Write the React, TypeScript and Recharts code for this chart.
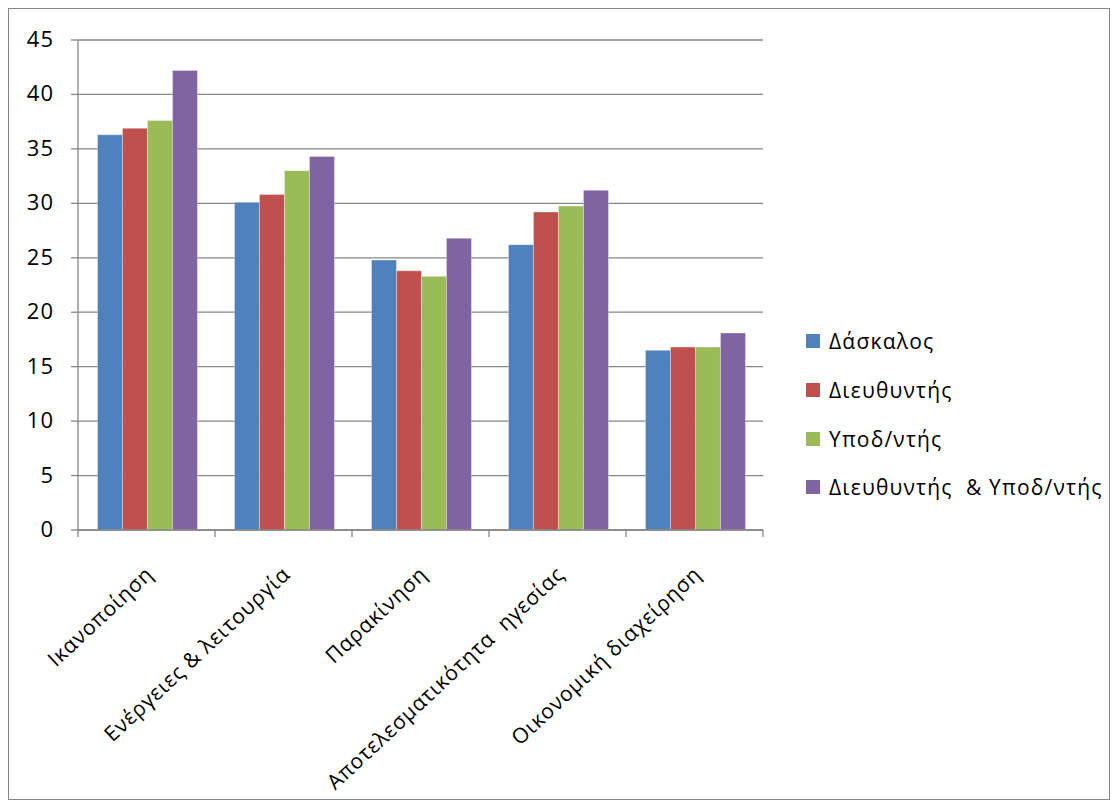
import React from "react";
import { BarChart, Bar, XAxis, YAxis, CartesianGrid } from "recharts";

const categories = [
  "Ικανοποίηση",
  "Ενέργειες & λειτουργία",
  "Παρακίνηση",
  "Αποτελεσματικότητα  ηγεσίας",
  "Οικονομική διαχείρηση",
];
const seriesNames = ["Δάσκαλος", "Διευθυντής", "Υποδ/ντής", "Διευθυντής  & Υποδ/ντής"];
const seriesColors = ["#4F81BD", "#C0504D", "#9BBB59", "#8064A2"];
const daskalos = [36.3, 30.1, 24.8, 26.2, 16.5];
const dieythyntis = [36.9, 30.8, 23.8, 29.2, 16.8];
const ypodntis = [37.6, 33.0, 23.3, 29.75, 16.8];
const dieythYpod = [42.2, 34.3, 26.8, 31.2, 18.1];
const yTicks = [0, 5, 10, 15, 20, 25, 30, 35, 40, 45];

const seriesValues = [daskalos, dieythyntis, ypodntis, dieythYpod];
const keys = ["s0", "s1", "s2", "s3"];
const data = categories.map((c, i) => {
  const row: any = { name: c };
  keys.forEach((k, j) => (row[k] = seriesValues[j][i]));
  return row;
});

const FONT = "'Open Sans', 'Noto Sans', sans-serif";

const XTick = (props: any) => {
  const { x, y, payload, index, visibleTicksCount } = props;
  const off = payload.offset || 0;
  const axisY = y - 8;
  const ax = x + 8;
  const ay = axisY + 46;
  return (
    <g>
      <line x1={x - off} x2={x - off} y1={axisY} y2={axisY + 7} stroke="#868686" strokeWidth={1.3} />
      {index === visibleTicksCount - 1 && (
        <line x1={x + off} x2={x + off} y1={axisY} y2={axisY + 7} stroke="#868686" strokeWidth={1.3} />
      )}
      <text
        x={ax}
        y={ay}
        textAnchor="end"
        transform={`rotate(-43, ${ax}, ${ay})`}
        fontSize={21}
        letterSpacing={0.8}
        fontFamily={FONT}
        fill="#000"
        style={{ whiteSpace: "pre" }}
      >
        {payload.value}
      </text>
    </g>
  );
};

const YTick = (props: any) => {
  const { x, y, payload } = props;
  return (
    <text
      x={x}
      y={y}
      dy={7}
      textAnchor="end"
      fontSize={22}
      letterSpacing={1}
      fontFamily={FONT}
      fill="#000"
    >
      {payload.value}
    </text>
  );
};

export default function App() {
  return (
    <div
      style={{
        position: "relative",
        width: 1102,
        height: 792,
        border: "1px solid #868686",
        boxSizing: "border-box",
        background: "#fff",
        fontFamily: FONT,
      }}
    >
      <BarChart
        width={1100}
        height={790}
        data={data}
        margin={{ top: 31, right: 346, left: 0, bottom: 0 }}
        barGap={0}
        barCategoryGap="14.2%"
      >
        <CartesianGrid vertical={false} stroke="#868686" strokeWidth={1.3} />
        <XAxis
          dataKey="name"
          height={269}
          interval={0}
          tickLine={false}
          axisLine={{ stroke: "#868686", strokeWidth: 1.3 }}
          tick={<XTick />}
        />
        <YAxis
          width={69}
          domain={[0, 45]}
          ticks={yTicks}
          interval={0}
          tickSize={7}
          tickMargin={17}
          tickLine={{ stroke: "#868686", strokeWidth: 1.3 }}
          axisLine={{ stroke: "#868686", strokeWidth: 1.3 }}
          tick={<YTick />}
        />
        {keys.map((k, j) => (
          <Bar
            key={k}
            dataKey={k}
            name={seriesNames[j]}
            fill={seriesColors[j]}
            stroke="rgba(255,255,255,0.35)"
            strokeWidth={1}
            isAnimationActive={false}
          />
        ))}
      </BarChart>
      <div style={{ position: "absolute", left: 797, top: 308 }}>
        {seriesNames.map((n, j) => (
          <div
            key={n}
            style={{ display: "flex", alignItems: "center", height: 48.7, whiteSpace: "pre" }}
          >
            <div style={{ width: 14, height: 14, background: seriesColors[j], marginRight: 9 }} />
            <span style={{ fontSize: 21, letterSpacing: 1.2, color: "#000" }}>{n}</span>
          </div>
        ))}
      </div>
    </div>
  );
}
